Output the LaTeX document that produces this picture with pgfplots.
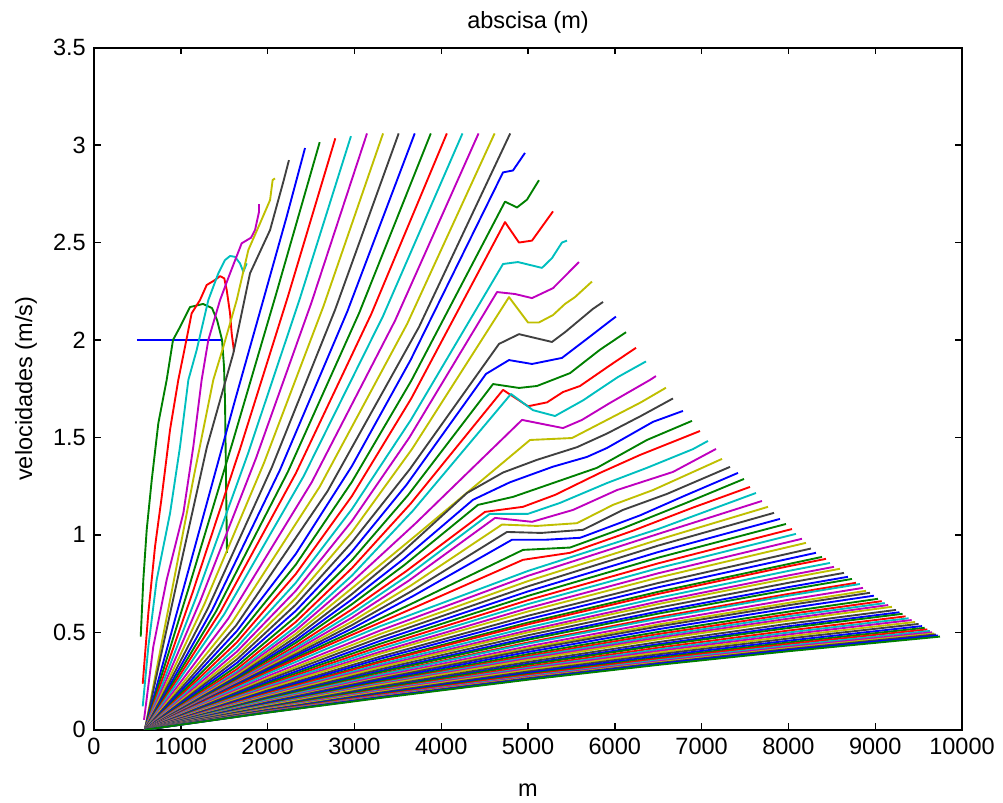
\documentclass[border=0pt]{standalone}
\usepackage{fontspec}
\setmainfont{Liberation Sans}
\usepackage{pgfplots}
\pgfplotsset{compat=1.18}
\usetikzlibrary{calc}
\definecolor{mb}{rgb}{0,0,1}
\definecolor{mg}{rgb}{0,0.5,0}
\definecolor{mr}{rgb}{1,0,0}
\definecolor{mc}{rgb}{0,0.75,0.75}
\definecolor{mm}{rgb}{0.75,0,0.75}
\definecolor{my}{rgb}{0.75,0.75,0}
\definecolor{mk}{rgb}{0.25,0.25,0.25}
\begin{document}
\begin{tikzpicture}
\begin{axis}[name=ax,
  width=12.98cm, height=10.2cm, scale only axis,
  xmin=0, xmax=10000, ymin=0, ymax=3.5,
  xtick={0,1000,2000,3000,4000,5000,6000,7000,8000,9000,10000},
  ytick={0,0.5,1,1.5,2,2.5,3,3.5},
  scaled x ticks=false,
  xticklabel style={/pgf/number format/1000 sep={}},
  yticklabel style={/pgf/number format/fixed},
  /pgf/number format/assume math mode=true,
  tick align=inside, major tick length=0.1cm,
  tick style={black, line width=0.6pt},
  axis line style={line width=0.8pt},
  title={abscisa (m)}, xlabel={m}, ylabel={velocidades (m/s)},
  title style={yshift=-0.12cm},
  xlabel style={yshift=-0.2cm},
  no markers,
  cycle list={{mb},{mg},{mr},{mc},{mm},{my},{mk}},
  every axis plot/.append style={line width=0.8pt, line join=round},
]
% 1
\addplot coordinates {(495,2.0) (1486,2.0)};
% 2
\addplot coordinates {(538,0.478) (568,0.769) (607,1.026) (665,1.282) (741,1.573) (837,1.795) (910,2.0) (991,2.067) (1106,2.169) (1256,2.185) (1359,2.164) (1417,2.103) (1475,2.0) (1498,1.862) (1509,1.692) (1532,0.908)};
% 3
\addplot coordinates {(561,0.236) (626,0.6) (703,0.94) (780,1.195) (876,1.54) (971,1.795) (1048,1.964) (1125,2.137) (1221,2.205) (1298,2.282) (1394,2.308) (1452,2.328) (1501,2.316) (1529,2.256) (1567,2.137) (1586,2.034) (1613,1.94)};
% 4
\addplot coordinates {(561,0.12) (626,0.427) (722,0.769) (876,1.111) (991,1.453) (1087,1.795) (1183,1.949) (1317,2.205) (1432,2.342) (1509,2.41) (1567,2.431) (1624,2.427) (1682,2.393) (1720,2.35) (1759,2.393)};
% 5
\addplot coordinates {(576,0.051) (683,0.427) (837,0.769) (1029,1.111) (1144,1.453) (1240,1.795) (1317,2.0) (1452,2.205) (1567,2.342) (1701,2.496) (1809,2.525) (1855,2.564) (1901,2.658) (1901,2.697)};
% 6
\addplot coordinates {(585,0) (900,0.72) (1150,1.3) (1374,1.795) (1490,1.965) (1644,2.205) (1778,2.462) (1912,2.598) (2028,2.718) (2058,2.821) (2085,2.829)};
% 7
\addplot coordinates {(585,0) (1000,0.85) (1300,1.45) (1605,1.932) (1797,2.342) (2028,2.564) (2181,2.812) (2246,2.923)};
% 8
\addplot coordinates {(585,0) (1624,1.69) (1950,2.205) (2219,2.632) (2431,2.985)};
% 9
\addplot coordinates {(585,0) (1089,0.725) (1593,1.47) (2096,2.233) (2600,3.015)};
% 10
\addplot coordinates {(585,0) (1134,0.702) (1683,1.442) (2231,2.219) (2780,3.035)};
% 11
\addplot coordinates {(585,0) (1179,0.682) (1773,1.416) (2366,2.205) (2960,3.046)};
% 12
\addplot coordinates {(585,0) (1225,0.662) (1865,1.392) (2505,2.192) (3145,3.06)};
% 13
\addplot coordinates {(585,0) (1271,0.644) (1958,1.369) (2644,2.174) (3330,3.06)};
% 14
\addplot coordinates {(585,0) (1316,0.627) (2048,1.346) (2779,2.157) (3510,3.06)};
% 15
\addplot coordinates {(585,0) (1363,0.616) (2140,1.331) (2918,2.146) (3695,3.06)};
% 16
\addplot coordinates {(585,0) (1409,0.610) (2233,1.323) (3056,2.140) (3880,3.06)};
% 17
\addplot coordinates {(585,0) (1455,0.604) (2325,1.316) (3195,2.134) (4065,3.06)};
% 18
\addplot coordinates {(585,0) (1500,0.593) (2415,1.301) (3330,2.123) (4245,3.06)};
% 19
\addplot coordinates {(585,0) (1546,0.570) (2508,1.270) (3469,2.100) (4430,3.06)};
% 20
\addplot coordinates {(585,0) (1593,0.553) (2600,1.247) (3608,2.083) (4615,3.06)};
% 21
\addplot coordinates {(585,0) (1638,0.536) (2690,1.224) (3743,2.066) (4795,3.06)};
% 22
\addplot coordinates {(585,0) (1646,0.507) (2324,0.902) (2971,1.353) (3649,1.899) (4712,2.86) (4827,2.87) (4965,2.96)};
% 23
\addplot coordinates {(585,0) (1646,0.476) (2324,0.847) (2971,1.272) (3655,1.791) (4735,2.71) (4873,2.68) (4988,2.72) (5126,2.82)};
% 24
\addplot coordinates {(585,0) (1646,0.449) (2324,0.799) (2971,1.199) (3655,1.700) (4735,2.605) (4896,2.50) (5046,2.51) (5288,2.66)};
% 25
\addplot coordinates {(585,0) (1646,0.424) (2324,0.754) (2971,1.132) (3649,1.589) (4712,2.39) (4884,2.40) (5161,2.37) (5276,2.42) (5391,2.50) (5449,2.51)};
% 26
\addplot coordinates {(585,0) (1646,0.401) (2324,0.713) (2971,1.071) (3632,1.499) (4643,2.246) (4850,2.236) (5046,2.215) (5288,2.266) (5587,2.40)};
% 27
\addplot coordinates {(585,0) (1646,0.380) (2324,0.676) (2971,1.014) (3666,1.442) (4781,2.22) (5000,2.09) (5126,2.09) (5288,2.128) (5426,2.185) (5541,2.22) (5737,2.30)};
% 28
\addplot coordinates {(585,0) (1646,0.361) (2324,0.642) (2971,0.962) (3638,1.337) (4666,1.98) (4896,2.03) (5276,1.99) (5426,2.04) (5749,2.16) (5864,2.195)};
% 29
\addplot coordinates {(585,0) (1646,0.343) (2324,0.610) (2971,0.914) (3600,1.257) (4516,1.826) (4781,1.897) (5046,1.877) (5391,1.908) (5691,2.01) (5944,2.097) (6013,2.12)};
% 30
\addplot coordinates {(585,0) (1646,0.326) (2324,0.580) (2971,0.870) (3620,1.205) (4597,1.774) (4896,1.754) (5103,1.764) (5484,1.83) (5829,1.95) (6129,2.04)};
% 31
\addplot coordinates {(585,0) (1646,0.311) (2324,0.553) (2971,0.829) (3649,1.161) (4712,1.744) (5000,1.66) (5219,1.68) (5403,1.733) (5599,1.764) (5944,1.87) (6244,1.96)};
% 32
\addplot coordinates {(585,0) (1646,0.298) (2324,0.529) (2971,0.791) (3672,1.123) (4804,1.723) (5057,1.64) (5311,1.61) (5633,1.69) (6036,1.81) (6359,1.89)};
% 33
\addplot coordinates {(585,0) (1646,0.289) (2324,0.510) (2971,0.758) (3704,1.059) (4931,1.59) (5403,1.548) (5622,1.59) (5944,1.677) (6405,1.795) (6474,1.815)};
% 34
\addplot coordinates {(585,0) (1646,0.281) (2324,0.492) (2971,0.726) (3727,1.004) (5023,1.487) (5507,1.497) (5910,1.59) (6300,1.68) (6589,1.755)};
% 35
\addplot coordinates {(585,0) (1646,0.273) (2324,0.475) (2971,0.696) (3545,0.909) (4297,1.215) (4712,1.32) (5103,1.385) (5564,1.45) (5910,1.52) (6300,1.61) (6670,1.70)};
% 36
\addplot coordinates {(585,0) (1646,0.266) (2324,0.459) (2971,0.669) (3563,0.875) (4366,1.18) (4792,1.27) (5288,1.35) (5679,1.40) (5910,1.446) (6440,1.58) (6785,1.636)};
% 37
\addplot coordinates {(585,0) (1646,0.260) (2324,0.446) (2971,0.644) (3577,0.846) (4424,1.154) (4827,1.195) (5288,1.266) (5794,1.344) (6370,1.487) (6889,1.585)};
% 38
\addplot coordinates {(585,0) (1646,0.253) (2324,0.431) (2971,0.618) (3597,0.814) (4504,1.118) (4942,1.144) (5311,1.205) (5829,1.318) (6290,1.41) (6981,1.533)};
% 39
\addplot coordinates {(585,0) (1646,0.248) (2324,0.419) (2971,0.596) (3611,0.790) (4560,1.108) (5000,1.108) (5368,1.164) (5910,1.266) (6370,1.344) (6900,1.44) (7073,1.482)};
% 40
\addplot coordinates {(585,0) (1646,0.244) (2324,0.408) (2971,0.575) (3626,0.765) (4620,1.087) (5046,1.067) (5518,1.128) (6025,1.23) (6670,1.323) (7166,1.441)};
% 41
\addplot coordinates {(585,0) (1646,0.239) (2324,0.398) (2971,0.555) (3646,0.739) (4700,1.053) (5103,1.046) (5564,1.06) (5979,1.154) (6440,1.23) (7235,1.39)};
% 42
\addplot coordinates {(585,0) (1646,0.236) (2324,0.388) (2971,0.537) (3661,0.712) (4758,1.015) (5150,1.01) (5633,1.026) (6094,1.128) (6600,1.21) (7327,1.349)};
% 43
\addplot coordinates {(585,0) (1646,0.232) (2324,0.379) (2971,0.519) (3675,0.686) (4815,0.975) (5200,0.975) (5600,0.985) (6290,1.10) (6800,1.20) (7419,1.318)};
% 44
\addplot coordinates {(585,0) (1646,0.227) (2324,0.369) (2971,0.502) (3707,0.657) (4942,0.923) (5484,0.935) (6100,1.035) (6800,1.16) (7488,1.287)};
% 45
\addplot coordinates {(585,0) (1646,0.224) (2324,0.361) (2971,0.487) (3707,0.630) (4942,0.872) (5484,0.908) (6200,1.02) (6900,1.14) (7557,1.246)};
% 46
\addplot coordinates {(585,0) (2000,0.287) (3295,0.531) (5000,0.815) (6500,1.03) (7626,1.215)};
% 47
\addplot coordinates {(585,0) (2000,0.275) (3295,0.509) (5000,0.790) (6500,1.005) (7695,1.174)};
% 48
\addplot coordinates {(585,0) (2000,0.265) (3295,0.491) (5000,0.763) (6500,0.975) (7765,1.144)};
% 49
\addplot coordinates {(585,0) (2000,0.256) (3295,0.473) (5000,0.736) (6500,0.945) (7834,1.113)};
% 50
\addplot coordinates {(585,0) (2000,0.246) (3295,0.456) (5000,0.710) (6500,0.912) (7903,1.082)};
% 51
\addplot coordinates {(585,0) (2000,0.238) (3295,0.441) (5000,0.687) (6500,0.883) (7972,1.056)};
% 52
\addplot coordinates {(585,0) (2000,0.230) (3295,0.427) (5000,0.665) (6500,0.854) (8041,1.030)};
% 53
\addplot coordinates {(585,0) (2000,0.223) (3295,0.414) (5000,0.645) (6500,0.829) (8087,1.005)};
% 54
\addplot coordinates {(585,0) (2000,0.216) (3295,0.400) (5000,0.624) (6500,0.803) (8156,0.980)};
% 55
\addplot coordinates {(585,0) (2000,0.210) (3295,0.390) (5000,0.607) (6500,0.781) (8202,0.959)};
% 56
\addplot coordinates {(585,0) (2000,0.202) (3295,0.375) (5000,0.585) (6500,0.753) (8260,0.930)};
% 57
\addplot coordinates {(585,0) (2000,0.196) (3295,0.364) (5000,0.567) (6500,0.731) (8317,0.908)};
% 58
\addplot coordinates {(585,0) (2000,0.190) (3295,0.352) (5000,0.550) (6500,0.708) (8387,0.887)};
% 59
\addplot coordinates {(585,0) (2000,0.187) (3295,0.346) (5000,0.541) (6500,0.697) (8000,0.839) (8433,0.877)};
% 60
\addplot coordinates {(585,0) (2000,0.181) (3295,0.336) (5000,0.525) (6500,0.677) (8000,0.815) (8479,0.856)};
% 61
\addplot coordinates {(585,0) (2000,0.176) (3295,0.327) (5000,0.510) (6500,0.658) (8000,0.792) (8525,0.836)};
% 62
\addplot coordinates {(585,0) (2000,0.172) (3295,0.320) (5000,0.500) (6500,0.645) (8000,0.777) (8594,0.826)};
% 63
\addplot coordinates {(585,0) (2000,0.167) (3295,0.310) (5000,0.485) (6500,0.626) (8000,0.754) (8640,0.805)};
% 64
\addplot coordinates {(585,0) (2000,0.162) (3295,0.301) (5000,0.471) (6500,0.607) (8000,0.732) (8686,0.785)};
% 65
\addplot coordinates {(585,0) (2000,0.159) (3295,0.295) (5000,0.462) (6500,0.596) (8000,0.718) (8732,0.774)};
% 66
\addplot coordinates {(585,0) (2000,0.154) (3295,0.286) (5000,0.448) (6500,0.578) (8000,0.697) (8778,0.754)};
% 67
\addplot coordinates {(585,0) (2000,0.152) (3295,0.282) (5000,0.442) (6500,0.570) (8000,0.688) (8824,0.748)};
% 68
\addplot coordinates {(585,0) (2000,0.147) (3295,0.274) (5000,0.428) (6500,0.553) (8000,0.667) (8859,0.728)};
% 69
\addplot coordinates {(585,0) (2000,0.144) (3295,0.267) (5000,0.418) (6500,0.540) (8000,0.651) (8894,0.713)};
% 70
\addplot coordinates {(585,0) (2000,0.141) (3295,0.262) (5000,0.410) (6500,0.530) (8000,0.639) (8940,0.703)};
% 71
\addplot coordinates {(585,0) (2000,0.137) (3295,0.255) (5000,0.399) (6500,0.516) (8000,0.623) (8985,0.688)};
% 72
\addplot coordinates {(585,0) (2000,0.133) (3295,0.248) (5000,0.388) (6500,0.502) (8000,0.606) (9032,0.672)};
% 73
\addplot coordinates {(585,0) (2000,0.130) (3295,0.242) (5000,0.379) (6500,0.491) (8000,0.593) (9075,0.660)};
% 74
\addplot coordinates {(585,0) (2000,0.128) (3295,0.238) (5000,0.372) (6500,0.481) (8000,0.582) (9110,0.650)};
% 75
\addplot coordinates {(585,0) (2000,0.125) (3295,0.233) (5000,0.365) (6500,0.472) (8000,0.570) (9150,0.640)};
% 76
\addplot coordinates {(585,0) (2000,0.123) (3295,0.229) (5000,0.358) (6500,0.464) (8000,0.560) (9193,0.631)};
% 77
\addplot coordinates {(585,0) (2000,0.119) (3295,0.222) (5000,0.348) (6500,0.450) (8000,0.544) (9240,0.615)};
% 78
\addplot coordinates {(585,0) (2000,0.116) (3295,0.216) (5000,0.339) (6500,0.439) (8000,0.531) (9280,0.603)};
% 79
\addplot coordinates {(585,0) (2000,0.114) (3295,0.213) (5000,0.334) (6500,0.432) (8000,0.522) (9315,0.595)};
% 80
\addplot coordinates {(585,0) (2000,0.111) (3295,0.207) (5000,0.325) (6500,0.421) (8000,0.509) (9350,0.582)};
% 81
\addplot coordinates {(585,0) (2000,0.109) (3295,0.203) (5000,0.318) (6500,0.412) (8000,0.499) (9385,0.572)};
% 82
\addplot coordinates {(585,0) (2000,0.107) (3295,0.199) (5000,0.312) (6500,0.404) (8000,0.489) (9420,0.563)};
% 83
\addplot coordinates {(585,0) (2000,0.105) (3295,0.195) (5000,0.306) (6500,0.396) (8000,0.479) (9460,0.553)};
% 84
\addplot coordinates {(585,0) (2000,0.102) (3295,0.190) (5000,0.299) (6500,0.387) (8000,0.468) (9500,0.543)};
% 85
\addplot coordinates {(585,0) (2000,0.100) (3295,0.186) (5000,0.292) (6500,0.378) (8000,0.457) (9540,0.532)};
% 86
\addplot coordinates {(585,0) (2000,0.098) (3295,0.182) (5000,0.286) (6500,0.370) (8000,0.448) (9570,0.523)};
% 87
\addplot coordinates {(585,0) (2000,0.096) (3295,0.179) (5000,0.281) (6500,0.364) (8000,0.440) (9600,0.515)};
% 88
\addplot coordinates {(585,0) (2000,0.094) (3295,0.175) (5000,0.275) (6500,0.357) (8000,0.432) (9630,0.507)};
% 89
\addplot coordinates {(585,0) (2000,0.093) (3295,0.173) (5000,0.271) (6500,0.351) (8000,0.425) (9655,0.500)};
% 90
\addplot coordinates {(585,0) (2000,0.091) (3295,0.170) (5000,0.267) (6500,0.346) (8000,0.419) (9680,0.494)};
% 91
\addplot coordinates {(585,0) (2000,0.090) (3295,0.168) (5000,0.264) (6500,0.342) (8000,0.414) (9700,0.489)};
% 92
\addplot coordinates {(585,0) (2000,0.089) (3295,0.166) (5000,0.260) (6500,0.338) (8000,0.409) (9725,0.484)};
% 93
\addplot coordinates {(585,0) (2000,0.088) (3295,0.163) (5000,0.257) (6500,0.333) (8000,0.403) (9746,0.478)};
\end{axis}
\pgfresetboundingbox
\path ($(ax.south west)+(-1.406cm,-1.092cm)$) rectangle ($(ax.north east)+(0.613cm,0.713cm)$);
\end{tikzpicture}
\end{document}
